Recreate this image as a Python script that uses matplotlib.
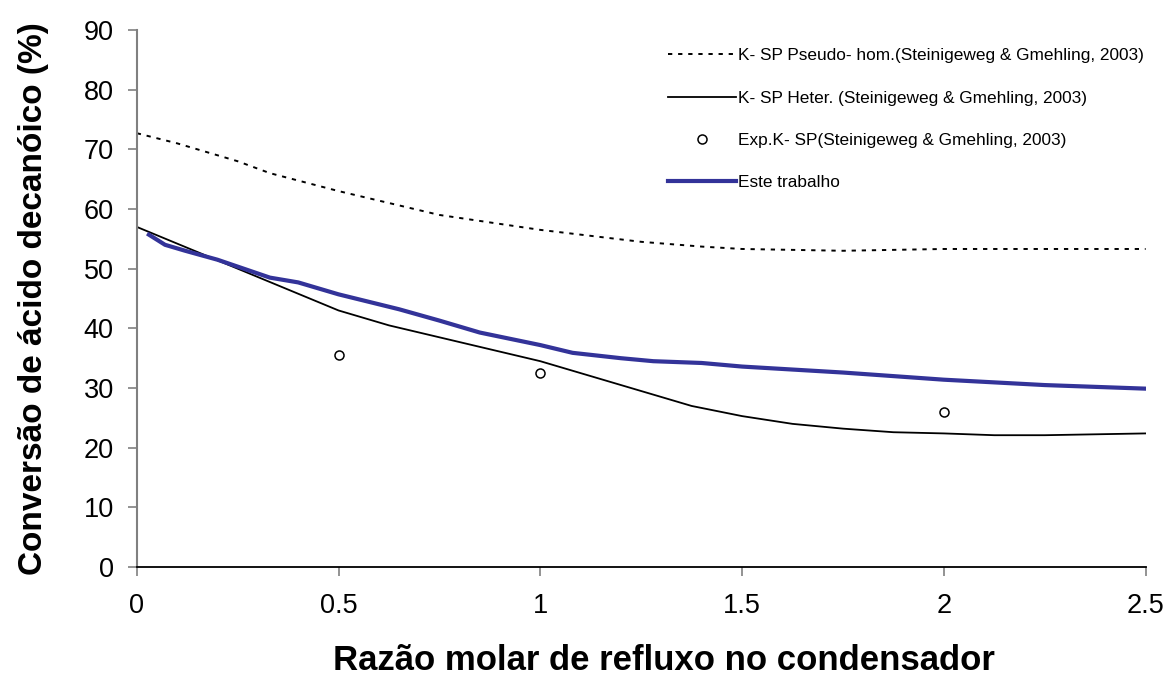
import matplotlib
matplotlib.use("Agg")
import matplotlib.pyplot as plt

plt.rcParams['font.family'] = ['Liberation Sans', 'DejaVu Sans']

# Pseudo-homogeneous model (Steinigeweg & Gmehling, 2003)
x_pseudo = [0.0, 0.1, 0.25, 0.33, 0.5, 0.75, 1.0, 1.25, 1.4, 1.5, 1.75, 2.0, 2.5]
y_pseudo = [72.7, 71.0, 68.0, 66.0, 63.0, 59.0, 56.5, 54.5, 53.7, 53.3, 53.0, 53.3, 53.3]

# Heterogeneous model
x_heter = [0.0, 0.25, 0.5, 0.625, 0.75, 1.0, 1.25, 1.375, 1.5, 1.625, 1.75, 1.875, 2.0, 2.125, 2.25, 2.5]
y_heter = [57.0, 50.0, 43.0, 40.5, 38.5, 34.5, 29.5, 27.0, 25.3, 24.0, 23.2, 22.6, 22.4, 22.1, 22.1, 22.4]

# Experimental points
x_exp = [0.5, 1.0, 2.0]
y_exp = [35.5, 32.5, 26.0]

# This work
x_this = [0.03, 0.07, 0.12, 0.2, 0.33, 0.4, 0.5, 0.65, 0.75, 0.85, 1.0, 1.08, 1.2, 1.28, 1.4, 1.5, 1.75, 2.0, 2.25, 2.5]
y_this = [55.7, 54.0, 53.0, 51.5, 48.5, 47.7, 45.7, 43.2, 41.3, 39.3, 37.2, 35.9, 35.0, 34.5, 34.2, 33.6, 32.6, 31.4, 30.5, 29.9]

fig = plt.figure(figsize=(11.69, 6.8), dpi=100)
ax = fig.add_axes([0.117, 0.166, 0.863, 0.790])

ax.plot(x_pseudo, y_pseudo, color='black', lw=1.4, linestyle=(0, (2.2, 3.0)),
        label='K- SP Pseudo- hom.(Steinigeweg & Gmehling, 2003)')
ax.plot(x_heter, y_heter, color='black', lw=1.3,
        label='K- SP Heter. (Steinigeweg & Gmehling, 2003)')
ax.plot(x_exp, y_exp, linestyle='none', marker='o', markersize=6.5,
        markerfacecolor='white', markeredgecolor='black', markeredgewidth=1.1,
        label='Exp.K- SP(Steinigeweg & Gmehling, 2003)')
ax.plot(x_this, y_this, color='#333399', lw=3.0, label='Este trabalho')

ax.set_xlim(0, 2.5)
ax.set_ylim(0, 90)
ax.set_xticks([0, 0.5, 1, 1.5, 2, 2.5])
ax.set_xticklabels(['0', '0.5', '1', '1.5', '2', '2.5'])
ax.set_yticks(range(0, 91, 10))

for s in ('top', 'right'):
    ax.spines[s].set_visible(False)
ax.spines['left'].set_color('#808080')
ax.spines['left'].set_linewidth(1.5)
ax.spines['bottom'].set_color('black')
ax.spines['bottom'].set_linewidth(1.3)
ax.tick_params(axis='y', direction='out', length=6.5, width=1.2, color='#808080',
               labelsize=19.5, pad=10)
ax.tick_params(axis='x', direction='out', length=6.5, width=1.2, color='#808080',
               labelsize=19.5, pad=12)

ax.set_xlabel('Razão molar de refluxo no condensador', fontsize=25, fontweight='bold',
              labelpad=18)
ax.xaxis.label.set_x(0.523)
ax.set_ylabel('Conversão de ácido decanóico (%)', fontsize=24, fontweight='bold',
              labelpad=25)

ax.legend(loc='upper right', bbox_to_anchor=(1.009, 0.985), frameon=False, fontsize=12.4,
          handlelength=3.95, handletextpad=0.12, labelspacing=1.58, borderaxespad=0.2)

fig.savefig('out.png', dpi=100, facecolor='white')
